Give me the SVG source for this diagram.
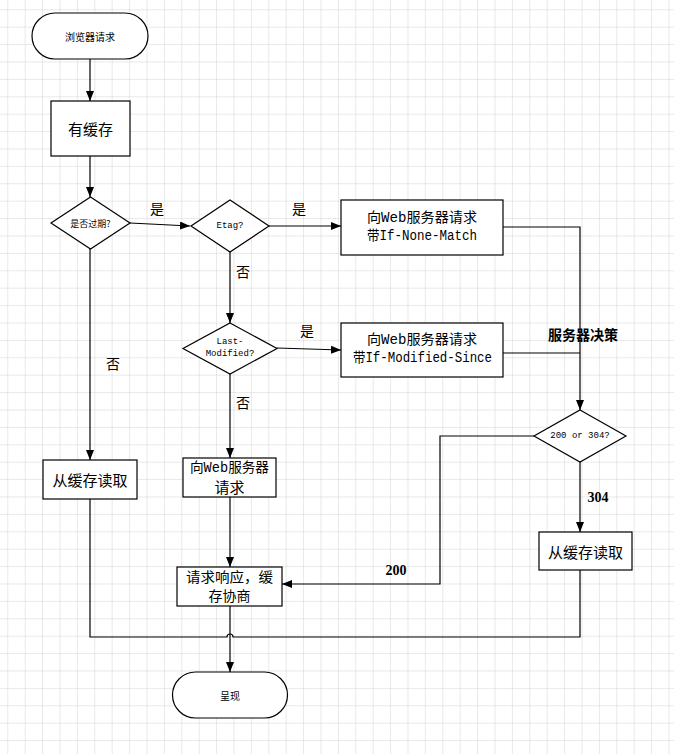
<svg xmlns="http://www.w3.org/2000/svg" width="674" height="754" viewBox="0 0 674 754">
<defs>
<pattern id="grid" width="17.4" height="17.4" patternUnits="userSpaceOnUse" x="7.3" y="9.3">
<path d="M0,0 H17.4 M0,0 V17.4" fill="none" stroke="#d2d2d2" stroke-width="1"/>
</pattern>
<marker id="arr" markerWidth="10" markerHeight="8" refX="10" refY="4" orient="auto" markerUnits="userSpaceOnUse">
<path d="M0,0 L10,4 L0,8 z" fill="#000"/>
</marker>
<style>
.shape{fill:#fff;stroke:#000;stroke-width:1.2}
.ln{fill:none;stroke:#000;stroke-width:1.2}
.arw{fill:none;stroke:#000;stroke-width:1.2;marker-end:url(#arr)}
text{font-family:"Noto Sans CJK SC","Liberation Sans",sans-serif;text-anchor:middle;dominant-baseline:central;fill:#000}
.mono{font-family:"Liberation Mono","Noto Sans CJK SC",monospace}
.sm{font-size:9px}
.md{font-size:14px}
.lbl{font-size:14px;font-family:"Noto Sans CJK SC",serif}
.bold{font-weight:bold;font-size:14px}
.num{font-family:"Liberation Serif",serif;font-weight:bold;font-size:14px}
</style>
</defs>
<rect x="0" y="0" width="674" height="754" fill="#fff"/>
<rect x="0" y="0" width="674" height="754" fill="url(#grid)"/>

<g id="connectors">
<path class="arw" d="M90,59 V101"/>
<path class="arw" d="M90,156 V197"/>
<path class="arw" d="M130,223 L190,226"/>
<path class="arw" d="M269,226 H341"/>
<path class="arw" d="M230,252 V323"/>
<path class="arw" d="M277,348 L341,350"/>
<path class="arw" d="M90,249 V460"/>
<path class="arw" d="M230,374 V458"/>
<path class="arw" d="M230,497 V567"/>
<path class="arw" d="M503,227 H580 V410"/>
<path class="ln" d="M503,353 H580"/>
<path class="arw" d="M580,462 V532"/>
<path class="arw" d="M534,436 H440 V584 H282"/>
<path class="ln" d="M90,499 V637 H227 A3,3 0 0 1 233,637 H580 V570"/>
<path class="arw" d="M230,606 V672"/>
</g>

<g id="labels">
<text class="lbl" x="157" y="208">是</text>
<text class="lbl" x="299" y="208">是</text>
<text class="lbl" x="307" y="330">是</text>
<text class="lbl" x="243" y="271">否</text>
<text class="lbl" x="113" y="363">否</text>
<text class="lbl" x="243" y="402">否</text>
<text class="bold" x="583" y="334">服务器决策</text>
<text class="num" x="396" y="570">200</text>
<text class="num" x="598" y="497">304</text>
</g>

<g id="start">
<rect class="shape" x="32" y="13" width="116" height="46" rx="23"/>
<text style="font-size:10px" x="90" y="36">浏览器请求</text>
</g>
<g id="hascache">
<rect class="shape" x="51" y="101" width="79" height="55"/>
<text style="font-size:15px" x="90.5" y="128">有缓存</text>
</g>
<g id="expired">
<path class="shape" d="M90.5,197 L130,223 L90.5,249 L51,223 z"/>
<text class="sm" x="90.5" y="223">是否过期?</text>
</g>
<g id="etag">
<path class="shape" d="M230,200 L269,226 L230,252 L191,226 z"/>
<text class="sm mono" x="230" y="226">Etag?</text>
</g>
<g id="req-none-match">
<rect class="shape" x="341" y="200" width="162" height="55"/>
<text class="md mono" x="422" y="218" textLength="110" lengthAdjust="spacingAndGlyphs">向Web服务器请求</text>
<text class="md mono" x="422" y="236" textLength="110" lengthAdjust="spacingAndGlyphs">带If-None-Match</text>
</g>
<g id="lastmod">
<path class="shape" d="M230,323 L277,348.5 L230,374 L183,348.5 z"/>
<text class="sm mono" x="230" y="342">Last-</text>
<text class="sm mono" x="230" y="354">Modified?</text>
</g>
<g id="req-mod-since">
<rect class="shape" x="341" y="323" width="162" height="54"/>
<text class="md mono" x="422" y="340" textLength="110" lengthAdjust="spacingAndGlyphs">向Web服务器请求</text>
<text class="md mono" x="422.5" y="358" textLength="139" lengthAdjust="spacingAndGlyphs">带If-Modified-Since</text>
</g>
<g id="readcache1">
<rect class="shape" x="43" y="460" width="94" height="39"/>
<text style="font-size:15px" x="90" y="479">从缓存读取</text>
</g>
<g id="req-server">
<rect class="shape" x="183" y="458" width="93" height="39"/>
<text class="md mono" x="229.5" y="468" textLength="79" lengthAdjust="spacingAndGlyphs">向Web服务器</text>
<text style="font-size:15px" x="229.5" y="486">请求</text>
</g>
<g id="decision">
<path class="shape" d="M580,410 L626,436 L580,462 L534,436 z"/>
<text class="sm mono" x="580" y="436">200 or 304?</text>
</g>
<g id="readcache2">
<rect class="shape" x="539" y="532" width="93" height="38"/>
<text style="font-size:15px" x="585.5" y="551">从缓存读取</text>
</g>
<g id="response">
<rect class="shape" x="177" y="567" width="105" height="39"/>
<text style="font-size:14px" x="229.5" y="576" textLength="87" lengthAdjust="spacingAndGlyphs">请求响应，缓</text>
<text style="font-size:14px" x="229.5" y="595">存协商</text>
</g>
<g id="end">
<rect class="shape" x="172.5" y="672" width="115" height="46" rx="23"/>
<text style="font-size:10px" x="230" y="695">呈现</text>
</g>
</svg>
